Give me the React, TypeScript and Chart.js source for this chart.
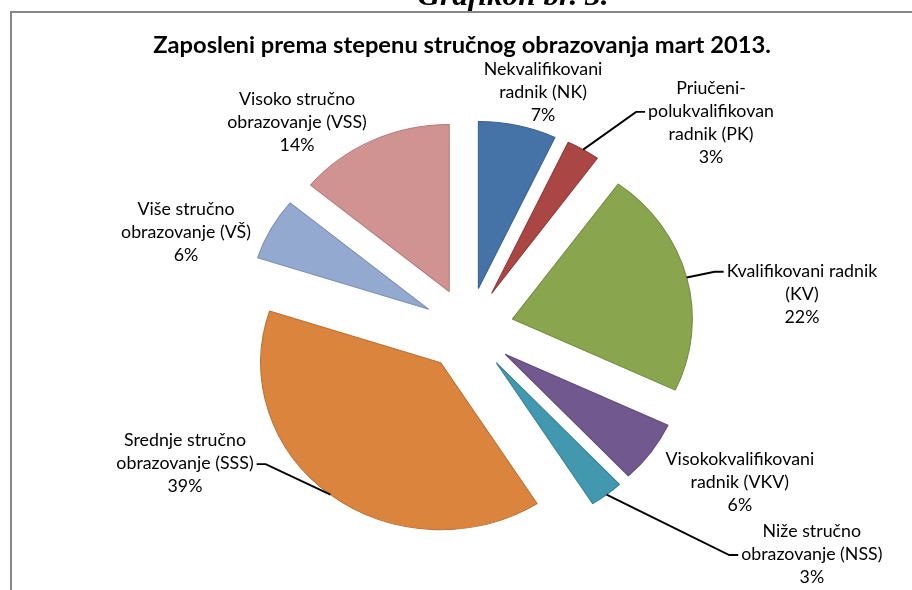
import React, { useEffect, useRef } from 'react';
import { Chart, registerables } from 'chart.js';

Chart.register(...registerables);

// ---- data ----
const CATEGORIES = [
  'Nekvalifikovani radnik (NK)',
  'Priučeni-polukvalifikovan radnik (PK)',
  'Kvalifikovani radnik (KV)',
  'Visokokvalifikovani radnik (VKV)',
  'Niže stručno obrazovanje (NSS)',
  'Srednje stručno obrazovanje (SSS)',
  'Više stručno obrazovanje (VŠ)',
  'Visoko stručno obrazovanje (VSS)',
];
const LABEL_LINES = [
  ['Nekvalifikovani', 'radnik (NK)'],
  ['Priučeni-', 'polukvalifikovan', 'radnik (PK)'],
  ['Kvalifikovani radnik', '(KV)'],
  ['Visokokvalifikovani', 'radnik (VKV)'],
  ['Niže stručno', 'obrazovanje (NSS)'],
  ['Srednje stručno', 'obrazovanje (SSS)'],
  ['Više stručno', 'obrazovanje (VŠ)'],
  ['Visoko stručno', 'obrazovanje (VSS)'],
];
const SHARES = [7, 3, 22, 6, 3, 39, 6, 14];
const COLORS = ['#4572A7', '#AA4643', '#89A54E', '#71588F', '#4198AF', '#DB843D', '#93A9CF', '#D19392'];
const BORDERS = ['#3B6190', '#913B39', '#748C42', '#604B7A', '#378196', '#BA7034', '#7D90B0', '#B27D7C'];
const TITLE = 'Zaposleni prema stepenu stručnog obrazovanja mart 2013.';
const CAPTION = 'Grafikon br. 3.';

// ---- layout ----
const SX = 1.078; // horizontal stretch of the reference picture
const EXPLODE = 42;
const RADIUS = 167;
const LINE_H = 23;
const LABEL_FONT = '16.5px Lato';
const LABEL_LAYOUT = [
  { angle: 16.3, dist: 1.475, leader: false },
  { angle: 47.5, dist: 1.827, leader: true },
  { angle: 83.6, dist: 1.864, leader: true },
  { angle: 121.4, dist: 1.766, leader: false },
  { angle: 125.3, dist: 2.337, leader: true },
  { angle: 242.9, dist: 1.769, leader: true },
  { angle: 290.2, dist: 1.672, leader: false },
  { angle: 322.4, dist: 1.561, leader: false },
];

const explodedPie = {
  id: 'explodedPie',
  beforeDraw(chart: any) {
    const ctx = chart.ctx;
    ctx.save();
    ctx.strokeStyle = '#878787';
    ctx.lineWidth = 2;
    ctx.beginPath();
    ctx.moveTo(11, 600);
    ctx.lineTo(11, 12);
    ctx.lineTo(920, 12);
    ctx.stroke();
    ctx.restore();
  },
  beforeDatasetDraw(chart: any, args: any) {
    const ctx = chart.ctx;
    args.meta.data.forEach((arc: any) => {
      const mid = (arc.startAngle + arc.endAngle) / 2;
      ctx.save();
      ctx.translate(arc.x, arc.y);
      ctx.scale(SX, 1);
      ctx.translate(Math.cos(mid) * EXPLODE - arc.x, Math.sin(mid) * EXPLODE - arc.y);
      arc.draw(ctx, chart.chartArea);
      ctx.restore();
    });
    return false;
  },
  afterDraw(chart: any) {
    const ctx = chart.ctx;
    const meta = chart.getDatasetMeta(0);
    const a0 = meta.data[0];
    const cx = a0.x;
    const cy = a0.y;
    const r = a0.outerRadius;

    // caption (cut off at the top)
    ctx.save();
    ctx.fillStyle = '#000';
    ctx.font = 'italic bold 29px "Liberation Serif"';
    ctx.textAlign = 'center';
    ctx.textBaseline = 'alphabetic';
    ctx.translate(513, 5);
    ctx.scale(SX, 1);
    ctx.fillText(CAPTION, 0, 0);
    ctx.restore();

    // title
    ctx.save();
    ctx.fillStyle = '#000';
    ctx.font = 'bold 22px Lato';
    ctx.textAlign = 'center';
    ctx.textBaseline = 'middle';
    ctx.translate(462, 46);
    ctx.scale(SX, 1);
    ctx.fillText(TITLE, 0, 0);
    ctx.restore();

    // data labels
    ctx.font = LABEL_FONT;
    LABEL_LINES.forEach((lines, i) => {
      const all = [...lines, `${SHARES[i]}%`];
      const L = LABEL_LAYOUT[i];
      const a = (L.angle * Math.PI) / 180;
      const lx = cx + SX * L.dist * r * Math.sin(a);
      const ly = cy - L.dist * r * Math.cos(a);
      const widths = all.map((t) => ctx.measureText(t).width * SX);
      const blockW = Math.max(...widths);
      const top = ly - ((all.length - 1) * LINE_H) / 2;
      all.forEach((t, j) => {
        ctx.save();
        ctx.fillStyle = '#000';
        ctx.textAlign = 'center';
        ctx.textBaseline = 'middle';
        ctx.translate(lx, top + j * LINE_H);
        ctx.scale(SX, 1);
        ctx.fillText(t, 0, 0);
        ctx.restore();
      });
      if (L.leader) {
        const arc = meta.data[i];
        const mid = (arc.startAngle + arc.endAngle) / 2;
        const ax = cx + SX * Math.cos(mid) * (EXPLODE + r);
        const ay = cy + Math.sin(mid) * (EXPLODE + r);
        const wi = widths.indexOf(blockW);
        const yl = top + wi * LINE_H;
        const side = lx > cx ? -1 : 1;
        const edge = lx + side * (blockW / 2 + 3);
        const elbow = edge + side * 9;
        ctx.save();
        ctx.strokeStyle = '#000';
        ctx.lineWidth = 1.9;
        ctx.beginPath();
        ctx.moveTo(ax, ay);
        ctx.lineTo(elbow, yl);
        ctx.lineTo(edge, yl);
        ctx.stroke();
        ctx.restore();
      }
    });
  },
};

export default function App() {
  const ref = useRef<HTMLCanvasElement | null>(null);
  useEffect(() => {
    if (!ref.current) return;
    const chart = new Chart(ref.current, {
      type: 'pie',
      data: {
        labels: CATEGORIES,
        datasets: [
          {
            data: SHARES,
            backgroundColor: COLORS,
            borderColor: BORDERS,
            borderWidth: 1,
            radius: RADIUS,
          } as any,
        ],
      },
      options: {
        responsive: false,
        animation: false,
        devicePixelRatio: 1,
        events: [],
        layout: { padding: { left: 25, right: 0, top: 69, bottom: 0 } },
        plugins: {
          legend: { display: false },
          tooltip: { enabled: false },
          title: { display: false },
        },
      } as any,
      plugins: [explodedPie],
    });
    return () => chart.destroy();
  }, []);
  return (
    <div style={{ position: 'fixed', left: 0, top: 0, width: 912, height: 590, background: '#fff', overflow: 'hidden' }}>
      <canvas ref={ref} width={912} height={590} style={{ display: 'block' }} />
    </div>
  );
}
